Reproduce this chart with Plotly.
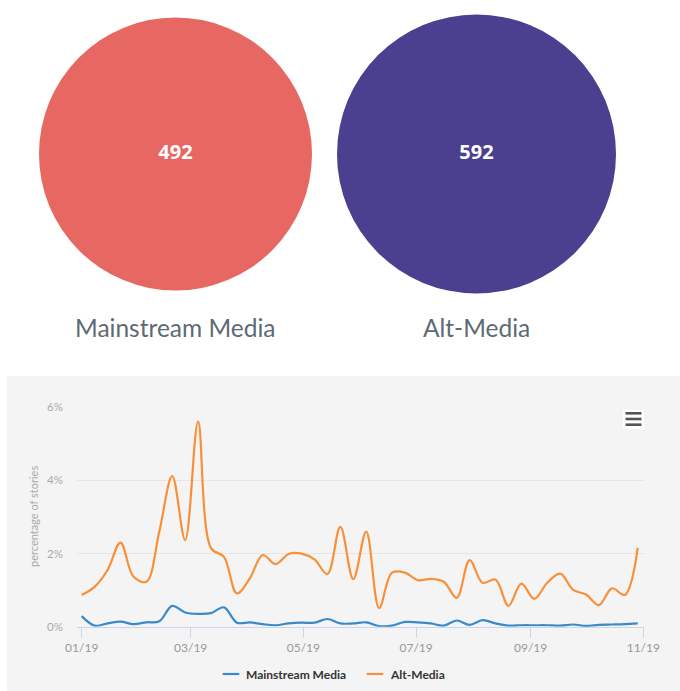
import plotly.graph_objects as go

# ---- summary counts -------------------------------------------------------
groups = ["Mainstream Media", "Alt-Media"]
story_counts = [492, 592]

# ---- weekly share of stories (%) -----------------------------------------
weeks = [
    "2019-01-01", "2019-01-08", "2019-01-15", "2019-01-22", "2019-01-29",
    "2019-02-05", "2019-02-12", "2019-02-19", "2019-02-26", "2019-03-05",
    "2019-03-12", "2019-03-19", "2019-03-26", "2019-04-02", "2019-04-09",
    "2019-04-16", "2019-04-23", "2019-04-30", "2019-05-07", "2019-05-14",
    "2019-05-21", "2019-05-28", "2019-06-04", "2019-06-11", "2019-06-18",
    "2019-06-25", "2019-07-02", "2019-07-09", "2019-07-16", "2019-07-23",
    "2019-07-30", "2019-08-06", "2019-08-13", "2019-08-20", "2019-08-27",
    "2019-09-03", "2019-09-10", "2019-09-17", "2019-09-24", "2019-10-01",
    "2019-10-08", "2019-10-15", "2019-10-22", "2019-10-29",
]
mainstream_pct = [
    0.29, 0.03, 0.09, 0.14, 0.07, 0.12, 0.15, 0.57, 0.39, 0.35,
    0.37, 0.53, 0.11, 0.12, 0.07, 0.04, 0.09, 0.11, 0.11, 0.21,
    0.09, 0.09, 0.12, 0.02, 0.03, 0.13, 0.12, 0.09, 0.03, 0.17,
    0.05, 0.18, 0.09, 0.03, 0.04, 0.04, 0.04, 0.03, 0.06, 0.02,
    0.05, 0.06, 0.07, 0.09,
]
alt_pct = [
    0.87, 1.09, 1.55, 2.30, 1.37, 1.23, 2.60, 4.12, 2.37, 5.61,
    2.15, 1.91, 0.91, 1.32, 1.96, 1.71, 1.99, 2.00, 1.84, 1.44,
    2.73, 1.30, 2.60, 0.51, 1.48, 1.48, 1.27, 1.31, 1.23, 0.79,
    1.82, 1.20, 1.29, 0.57, 1.18, 0.76, 1.20, 1.45, 1.01, 0.88,
    0.59, 1.05, 0.87, 2.16,
]
y_ticks = [0, 2, 4, 6]
y_tick_labels = ["0%", "2%", "4%", "6%"]

# ---- styling ----------------------------------------------------------------
W, H = 680, 691
RED, PURPLE = "#e76762", "#4b3f8f"
BLUE, ORANGE = "#3a89c9", "#f8903a"
PANEL = "#f4f4f4"
CIRCLE_SIZES = [273, 279]


def fx(p):
    return p / W


def fy(p):
    return 1 - p / H


fig = go.Figure()

# bubbles with the totals
fig.add_trace(go.Scatter(
    x=groups, y=[0, 0], xaxis="x2", yaxis="y2",
    mode="markers+text",
    marker=dict(size=CIRCLE_SIZES, color=[RED, PURPLE], opacity=1, line=dict(width=0)),
    text=[str(v) for v in story_counts],
    textposition="middle center",
    textfont=dict(family="Open Sans", size=20, color="white", weight=700),
    cliponaxis=False, hoverinfo="skip", showlegend=False,
))

# weekly time series
fig.add_trace(go.Scatter(
    x=weeks, y=mainstream_pct, name=groups[0], mode="lines",
    line=dict(color=BLUE, width=2.2, shape="spline", smoothing=1.0),
    showlegend=False,
))
fig.add_trace(go.Scatter(
    x=weeks, y=alt_pct, name=groups[1], mode="lines",
    line=dict(color=ORANGE, width=2.2, shape="spline", smoothing=1.0),
    showlegend=False,
))

shapes = [
    # chart panel
    dict(type="rect", xref="paper", yref="paper", x0=fx(7), x1=1, y0=0, y1=fy(376),
         fillcolor=PANEL, line=dict(width=0), layer="below"),
    # export menu button
    dict(type="rect", xref="paper", yref="paper", x0=fx(623), x1=fx(644),
         y0=fy(429), y1=fy(410), fillcolor="white", line=dict(width=0)),
]
for yy in (413.3, 419.0, 424.7):
    shapes.append(dict(type="line", xref="paper", yref="paper", x0=fx(625.5), x1=fx(641.5),
                       y0=fy(yy), y1=fy(yy), line=dict(color="#555555", width=2.6)))

# legend swatches
legend_items = [(groups[0], BLUE, 222.7, 244.3), (groups[1], ORANGE, 366.7, 388.3)]
annotations = []
for name, col, sx, tx in legend_items:
    shapes.append(dict(type="line", xref="paper", yref="paper", x0=fx(sx), x1=fx(sx + 16.6),
                       y0=fy(674), y1=fy(674), line=dict(color=col, width=2.2)))
    annotations.append(dict(text=name, xref="paper", yref="paper", x=fx(tx), y=fy(674),
                            xanchor="left", yanchor="middle", showarrow=False,
                            font=dict(family="Lato", size=12, color="#333333", weight=700)))

# names under the bubbles
for g in groups:
    annotations.append(dict(text=g, xref="x2", yref="paper", x=g, y=fy(327),
                            xanchor="center", yanchor="middle", showarrow=False,
                            font=dict(family="Lato", size=24.5, color="#5d6a73")))

# y-axis title
annotations.append(dict(text="percentage of stories", xref="paper", yref="paper",
                        x=fx(33), y=fy(517), textangle=-90, showarrow=False,
                        xanchor="center", yanchor="middle",
                        font=dict(family="Lato", size=11, color="#aaaaaa")))

fig.update_layout(
    template="none",
    width=W, height=H,
    margin=dict(l=0, r=0, t=0, b=0, pad=0, autoexpand=False),
    paper_bgcolor="white",
    plot_bgcolor="rgba(0,0,0,0)",
    font=dict(family="Lato"),
    shapes=shapes,
    annotations=annotations,
    xaxis=dict(
        domain=[fx(77), fx(644)], type="date", automargin=False,
        range=["2018-12-29 11:00", "2019-11-01 09:00"],
        tick0="2019-01-01", dtick="M2", tickformat="%m/%y",
        ticks="outside", ticklen=10, tickwidth=1, tickcolor="#ccd6eb",
        showline=True, linecolor="#ccd6eb", linewidth=1,
        showgrid=False, zeroline=False,
        tickfont=dict(family="Lato", size=12, color="#999999"),
    ),
    yaxis=dict(
        domain=[fy(626.7), fy(407.3)], range=[0, 6], automargin=False,
        tickvals=y_ticks, ticktext=y_tick_labels,
        showgrid=True, gridcolor="#e6e6e6", gridwidth=1, zeroline=False, showline=False,
        ticks="", ticklabelstandoff=13,
        tickfont=dict(family="Lato", size=11.5, color="#aaaaaa"),
    ),
    xaxis2=dict(domain=[fx(25), fx(627)], type="category", range=[-0.5, 1.5],
                visible=False, anchor="y2", automargin=False),
    yaxis2=dict(domain=[fy(308), 1], range=[-1, 1], visible=False, anchor="x2",
                automargin=False),
)

fig.write_html("out.html")
